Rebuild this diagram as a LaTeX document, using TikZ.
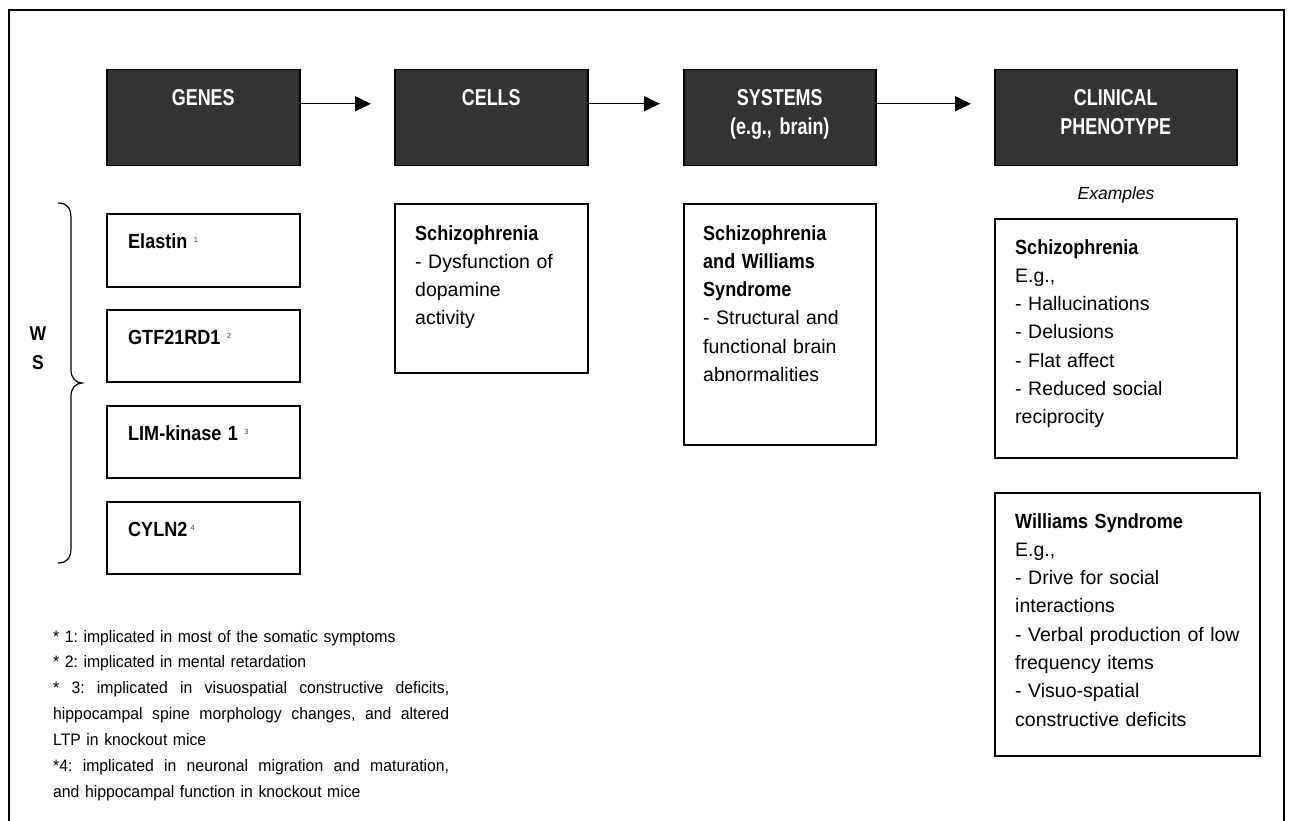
\documentclass[tikz,border=0pt]{standalone}
\usepackage{fontspec}
\setmainfont{Liberation Sans}
\newfontfamily\narrowsans{Liberation Sans}[FakeStretch=0.88]
\newfontfamily\headsans{Liberation Sans}[FakeStretch=0.78]
\newfontfamily\notesans{Liberation Sans}[FakeStretch=0.95]
\usetikzlibrary{arrows.meta}
\definecolor{boxgray}{RGB}{51,51,51}
\definecolor{supgray}{RGB}{70,70,70}
\newcommand\boxtitle[1]{{\narrowsans\bfseries\fontsize{20.5}{28.3}\selectfont #1}}
\newcommand\supnum[1]{\raisebox{6pt}{\fontsize{7.5}{7.5}\selectfont\color{supgray}#1}}
% a justified line: spaces stretch to the full text width
\newcommand\fullline[1]{\makebox[\linewidth][s]{\spaceskip=0pt\xspaceskip=0pt #1}}
\frenchspacing
\begin{document}
\begin{tikzpicture}[x=1pt,y=-1pt,
  frame/.style={line width=1.5pt},
  darkbox/.style={draw=black, line width=1.5pt, fill=boxgray, anchor=north west, inner sep=0pt},
  whitebox/.style={draw=black, line width=1.6pt, fill=white, anchor=north west, inner sep=0pt},
  headtxt/.style={text=white, inner sep=0pt, anchor=base, align=center, text width=200pt,
    font=\headsans\bfseries\fontsize{23}{28.5}\selectfont},
  bodytxt/.style={inner sep=0pt, anchor=base west, align=left, text width=240pt,
    font=\fontsize{19.5}{28.3}\selectfont},
  flow/.style={line width=1.5pt, -{Triangle[length=16pt,width=15pt]}, shorten >=23pt},
]
\useasboundingbox (0,0) rectangle (1289,821);

% outer frame
\draw[frame] (9,821) -- (9,10) -- (1284,10) -- (1284,821);

% level headers
\node[darkbox, minimum width=193pt, minimum height=96pt] (genes) at (106,69) {};
\node[darkbox, minimum width=193pt, minimum height=96pt] (cells) at (394,69) {};
\node[darkbox, minimum width=192pt, minimum height=96pt] (systems) at (683,69) {};
\node[darkbox, minimum width=242pt, minimum height=96pt] (clinical) at (994,69) {};

\node[headtxt] (genesT) at ([yshift=-37pt]genes.north) {GENES};
\node[headtxt] (cellsT) at ([yshift=-37pt]cells.north) {CELLS};
\node[headtxt] (systemsT) at ([yshift=-37pt]systems.north) {SYSTEMS\\(e.g., brain)};
\node[headtxt] (clinicalT) at ([yshift=-37pt]clinical.north) {CLINICAL\\PHENOTYPE};

% flow between levels
\draw[flow] ([yshift=14pt]genes.east) -- ([yshift=14pt]cells.west);
\draw[flow] ([yshift=14pt]cells.east) -- ([yshift=14pt]systems.west);
\draw[flow] ([yshift=14pt]systems.east) -- ([yshift=14pt]clinical.west);

% genes column
\node[whitebox, minimum width=193pt, minimum height=73pt] (elastin) at (106,213) {};
\node[whitebox, minimum width=193pt, minimum height=72pt] (gtf) at (106,309) {};
\node[whitebox, minimum width=193pt, minimum height=72pt] (limk) at (106,405) {};
\node[whitebox, minimum width=193pt, minimum height=72pt] (cyln) at (106,501) {};

\node[bodytxt] (elastinT) at ([xshift=22pt,yshift=-35pt]elastin.north west) {\boxtitle{Elastin} \supnum{1}};
\node[bodytxt] (gtfT) at ([xshift=22pt,yshift=-35pt]gtf.north west) {\boxtitle{GTF21RD1} \supnum{2}};
\node[bodytxt] (limkT) at ([xshift=22pt,yshift=-35pt]limk.north west) {\boxtitle{LIM-kinase 1} \supnum{3}};
\node[bodytxt] (cylnT) at ([xshift=22pt,yshift=-35pt]cyln.north west) {\boxtitle{CYLN2}\,\supnum{4}};

% brace grouping the WS genes
\draw[line width=1.2pt] (58,203) .. controls (67,203) and (71,208) .. (71,218)
  -- (71,370) .. controls (71,378) and (76,383) .. (82,383)
  .. controls (76,383) and (71,388) .. (71,396)
  -- (71,548) .. controls (71,558) and (67,563) .. (58,563);
\node[inner sep=0pt, anchor=base, align=center,
  font=\narrowsans\bfseries\fontsize{20}{29}\selectfont] (ws) at (38,369) {W\\S};

% cells column
\node[whitebox, minimum width=193pt, minimum height=169pt] (cellsBox) at (394,203) {};
\node[bodytxt] (cellsBoxT) at ([xshift=21pt,yshift=-37pt]cellsBox.north west)
  {\boxtitle{Schizophrenia}\\- Dysfunction of\\dopamine\\activity};

% systems column
\node[whitebox, minimum width=192pt, minimum height=241pt] (systemsBox) at (683,203) {};
\node[bodytxt] (systemsBoxT) at ([xshift=20pt,yshift=-37pt]systemsBox.north west)
  {\boxtitle{Schizophrenia}\\\boxtitle{and Williams}\\\boxtitle{Syndrome}\\- Structural and\\functional brain\\abnormalities};

% clinical column
\node[inner sep=0pt, anchor=base, font=\itshape\fontsize{17.5}{20}\selectfont] (examples) at (1116,200) {Examples};
\node[whitebox, minimum width=242pt, minimum height=239pt] (szBox) at (994,218) {};
\node[bodytxt] (szBoxT) at ([xshift=21pt,yshift=-36pt]szBox.north west)
  {\boxtitle{Schizophrenia}\\E.g.,\\- Hallucinations\\- Delusions\\- Flat affect\\- Reduced social\\reciprocity};
\node[whitebox, minimum width=265pt, minimum height=263pt] (wsBox) at (994,492) {};
\node[bodytxt] (wsBoxT) at ([xshift=21pt,yshift=-36pt]wsBox.north west)
  {\boxtitle{Williams Syndrome}\\E.g.,\\- Drive for social\\interactions\\- Verbal production of low\\frequency items\\- Visuo-spatial\\constructive deficits};

% footnotes
\node[inner sep=0pt, anchor=base west, align=left, text width=396pt,
  font=\notesans\fontsize{16.6}{25.9}\selectfont] (notes) at (53,642)
  {* 1: implicated in most of the somatic symptoms\\{}%
   * 2: implicated in mental retardation\\{}%
   \fullline{* 3: implicated in visuospatial constructive deficits,}\\{}%
   \fullline{hippocampal spine morphology changes, and altered}\\{}%
   LTP in knockout mice\\{}%
   \fullline{*4: implicated in neuronal migration and maturation,}\\{}%
   and hippocampal function in knockout mice};
\end{tikzpicture}
\end{document}
